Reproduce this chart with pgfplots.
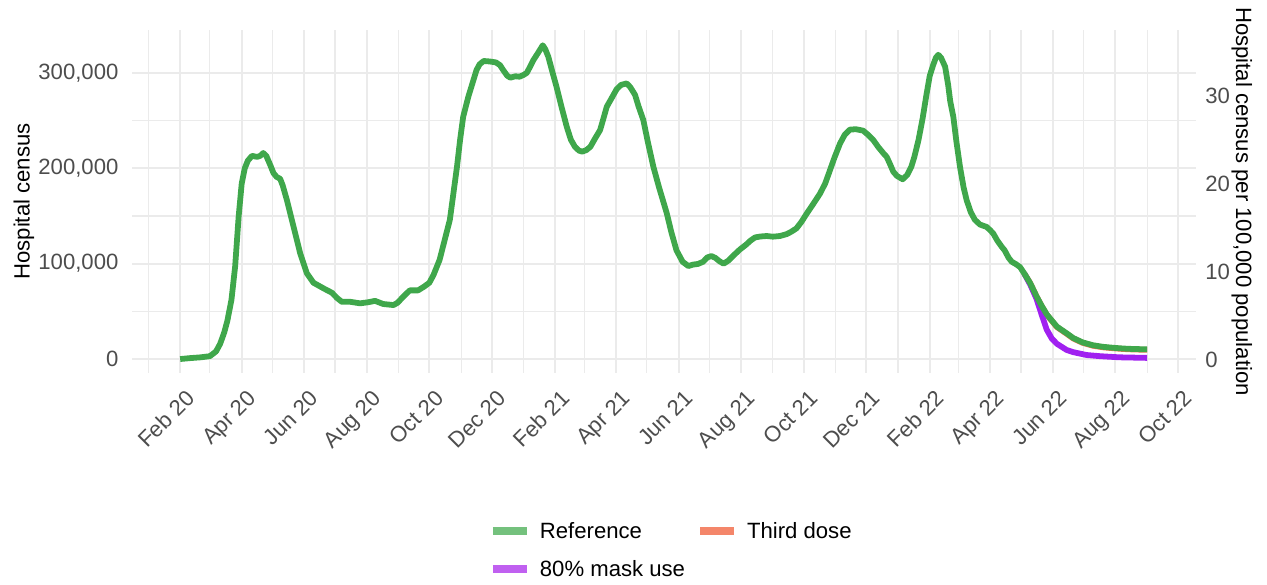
\documentclass[border=0pt]{standalone}
\usepackage{fontspec}
\setmainfont{Liberation Sans}
\usepackage{pgfplots}
\usepackage{pgfplotstable}
\pgfplotsset{compat=1.18}

\definecolor{refline}{HTML}{3FA74B}
\definecolor{maskline}{HTML}{A020F0}
\definecolor{doseline}{HTML}{F07050}
\definecolor{refkey}{HTML}{74C17D}
\definecolor{dosekey}{HTML}{F4866A}
\definecolor{maskkey}{HTML}{C060F0}
\definecolor{gridc}{HTML}{EBEBEB}
\definecolor{tickc}{HTML}{4D4D4D}

\newcommand{\txt}{\fontsize{8.8}{10}\selectfont}

% days since 1 Feb 2020, hospital census
\pgfplotstableread{
day v
0 0
10 1000
20 1800
29 3000
35 8000
39 16000
43 28000
46 40000
50 62000
53.6 97000
57 149000
60 184000
63 200000
66 208000
70 213000
75 212000
78 213000
81 216000
84 213000
88 203000
91 195000
94 191000
97.5 189000
100 182000
104 167000
110.5 139000
117 111000
123.5 90000
130 80000
135 77000
140 74000
148 69500
153 64000
157.6 60000
166 60000
175.5 58400
183 59500
190 61000
198 57700
208 56600
212 59000
216 63600
220 68000
224 72000
232 72000
238 76000
243 80000
247 88000
253 104000
258 125000
263 146000
266.5 174000
270 202000
273 230000
276 254000
281 275000
283 282000
289 303000
292 309000
296 312500
302 312000
308 311000
312 308000
315 303000
319 297000
322 295000
327 296500
331 296000
335 298000
338 300000
341 306000
344.5 313500
349 321000
353.6 329000
356 325000
359 317000
363 301000
367 285500
372 264000
377 243500
381 230000
385 222500
389 218500
392 217500
396 219000
400 222500
405 232000
409.5 240000
413 253000
416 264500
421 274000
425.7 283000
430 287500
435.5 289000
439 285000
443.6 277000
447 265000
451.7 250500
456 228000
461.5 201500
467 180000
474.5 153000
479 133000
484 114000
490 102000
495.6 97500
500 99000
505 99700
510 102000
514 106500
518 108000
522 106000
526 102500
530 100000
535 103500
540 109000
546 115000
552 120000
556 124000
560.6 127500
566 128500
572 129000
578 128300
585 129000
591.5 131000
596 133500
601 137000
606 144000
611 152500
617 162000
624 173500
629 184000
633.7 198000
638 211000
643.5 226000
648 235000
653 240500
659 241000
666 239500
671 235000
676 229500
681 222000
686 215500
689 212000
692 205000
695.4 196500
699 192000
704.6 188500
709 193000
713 201500
716 212000
720 229500
724 252000
728 278500
731 297000
734.4 308500
737 316000
739.3 319000
742 316000
746 306500
749 287000
751 270000
754 254000
757 228000
760.5 201500
764 180000
767 166500
771 154000
775 146000
780 141000
786.5 138500
790 135000
793 131500
797 124000
801 118000
804 114000
808 106000
811 102000
815 99500
819 96500
823 90000
829 79500
835 66000
840 56000
845 47000
848 43000
855 34000
864.5 27000
871 22000
880 17500
890 14500
900 12800
910 11800
920 11000
930 10500
943 10200
}\reftab

% third dose: follows the reference, slightly lower at the end
\pgfplotstableread{
day v
823 90000
829 79500
835 66000
840 55800
845 46700
848 42600
855 33500
864.5 26500
871 21500
880 17000
890 14000
900 12300
910 11300
920 10500
930 10000
943 9700
}\dosetab

% 80% mask use
\pgfplotstableread{
day v
823 90000
829 78000
835 63500
840 47000
845 31000
850 21500
855 16000
864.5 9500
871 7200
884 4200
897 3000
916 1800
943 1200
}\masktab

\begin{document}
\txt
\begin{tikzpicture}
\useasboundingbox (-52.5pt,-84.3pt) rectangle (451.5pt,148.4pt);
\begin{axis}[
  at={(0,0)}, anchor=south west,
  scale only axis, width=423.2pt, height=136.5pt,
  xmin=-47, xmax=990.5,
  ymin=-14700, ymax=345100,
  xtick={0,60,121,182,243,304,366,425,486,547,608,669,731,790,851,912,973},
  xticklabels={Feb 20,Apr 20,Jun 20,Aug 20,Oct 20,Dec 20,Feb 21,Apr 21,Jun 21,Aug 21,Oct 21,Dec 21,Feb 22,Apr 22,Jun 22,Aug 22,Oct 22},
  minor xtick={-31,29,90,151,213,274,335,394,455,516,578,639,700,759,820,881,943},
  ytick={0,100000,200000,300000},
  yticklabels={0,{100,000},{200,000},{300,000}},
  minor ytick={50000,150000,250000},
  scaled y ticks=false,
  grid=both,
  major grid style={draw=gridc, line width=0.8pt},
  minor grid style={draw=gridc, line width=0.45pt},
  axis line style={draw=none},
  major tick length=0pt, minor tick length=0pt,
  tick label style={font=\txt, text=tickc},
  xticklabel style={xshift=1.8pt, yshift=-6pt, rotate=45, anchor=north east, inner sep=0pt},
  yticklabel style={anchor=east, inner sep=0pt, xshift=-5.2pt},
  legend image code/.code={\draw[#1] (0pt,0pt) -- (13.5pt,0pt);},
  legend cell align=left,
  legend columns=2,
  legend style={at={(0.3355,-0.5154)}, anchor=west, draw=none, fill=none,
    inner sep=0pt, outer sep=0pt, font=\txt, row sep=8.8pt,
    nodes={inner sep=0pt, text height=6.3pt, text depth=0pt},
    /tikz/every odd column/.append style={column sep=3.6pt},
    /tikz/every even column/.append style={column sep=4.4pt}},
]
\addplot[doseline, line width=2.3pt, line join=round, forget plot] table[x=day, y=v] {\dosetab};
\addplot[maskline, line width=2.3pt, line join=round, forget plot] table[x=day, y=v] {\masktab};
\addplot[refline, line width=2.3pt, line join=round, forget plot] table[x=day, y=v] {\reftab};
\addlegendimage{draw=refkey, line width=3.2pt}
\addlegendentry{Reference}
\addlegendimage{draw=dosekey, line width=3.2pt}
\addlegendentry{Third dose}
\addlegendimage{draw=maskkey, line width=3.2pt}
\addlegendentry{80\% mask use}
\end{axis}
\begin{axis}[
  at={(0,0)}, anchor=south west,
  scale only axis, width=423.2pt, height=136.5pt,
  xmin=-47, xmax=990.5,
  ymin=-1.54, ymax=37.57,
  hide x axis,
  axis y line*=right,
  axis line style={draw=none},
  ytick={0,10,20,30},
  major tick length=0pt,
  /pgf/number format/assume math mode=true,
  tick label style={font=\txt, text=tickc},
  yticklabel style={anchor=west, inner sep=0pt, xshift=3.6pt},
]
\addplot[draw=none, forget plot] coordinates {(0,0)};
\end{axis}
\node[rotate=90, font=\txt] at (-43pt,68.25pt) {Hospital census};
\node[rotate=-90, font=\txt] at (441.5pt,68.25pt) {Hospital census per 100,000 population};
\end{tikzpicture}
\end{document}
